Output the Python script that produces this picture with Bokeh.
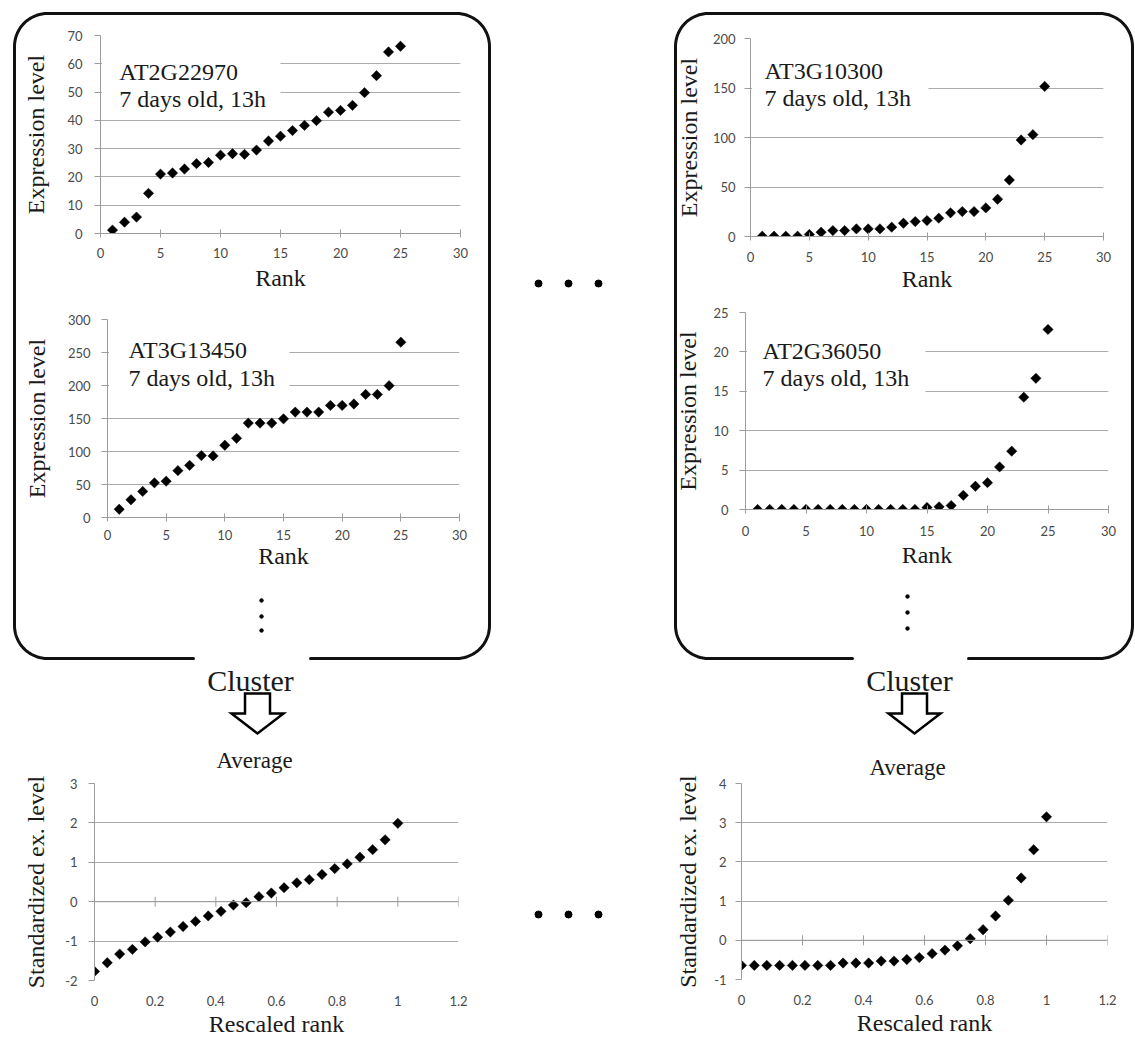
import numpy as np
from bokeh.plotting import figure
from bokeh.layouts import column
from bokeh.models import Range1d, FixedTicker, Label, BoxAnnotation, Span, GridBox
from bokeh.core.properties import value
from bokeh.embed import file_html
from bokeh.resources import INLINE

# ---------------- data ----------------
RANKS = [1, 2, 3, 4, 5, 6, 7, 8, 9, 10, 11, 12, 13, 14, 15, 16, 17, 18, 19, 20, 21, 22, 23, 24, 25]
RESCALED_RANKS = [0.0, 0.042, 0.083, 0.125, 0.167, 0.208, 0.25, 0.292, 0.333, 0.375, 0.417, 0.458, 0.5,
                  0.542, 0.583, 0.625, 0.667, 0.708, 0.75, 0.792, 0.833, 0.875, 0.917, 0.958, 1.0]

CONDITION = "7 days old, 13h"

GENE_A_NAME = "AT2G22970"
GENE_A_EXPR = [1.2, 4.0, 5.8, 14.2, 21.0, 21.4, 22.8, 24.7, 25.1, 27.7, 28.2, 28.0, 29.5, 32.7, 34.4,
               36.4, 38.2, 39.9, 42.9, 43.5, 45.3, 49.8, 55.8, 64.2, 66.2]

GENE_B_NAME = "AT3G13450"
GENE_B_EXPR = [12.5, 26.9, 39.5, 52.5, 55.0, 71.0, 79.0, 93.8, 93.3, 109.5, 120.0, 143.0, 143.0, 143.0,
               149.5, 159.7, 159.7, 159.7, 169.8, 169.8, 172.0, 186.5, 186.5, 199.7, 265.6]

GENE_C_NAME = "AT3G10300"
GENE_C_EXPR = [0.3, 0.3, 0.3, 0.3, 2.0, 4.4, 6.0, 6.0, 7.7, 7.7, 7.7, 9.4, 13.4, 15.1, 16.1, 18.5,
               23.9, 25.2, 25.2, 28.9, 37.6, 57.1, 97.5, 102.9, 151.6]

GENE_D_NAME = "AT2G36050"
GENE_D_EXPR = [0.0, 0.0, 0.0, 0.0, 0.0, 0.0, 0.0, 0.0, 0.0, 0.0, 0.0, 0.0, 0.0, 0.0, 0.25, 0.34, 0.5,
               1.8, 2.95, 3.4, 5.4, 7.4, 14.25, 16.65, 22.85]

AVG_LEFT = [-1.77, -1.55, -1.33, -1.21, -1.02, -0.9, -0.77, -0.63, -0.5, -0.36, -0.245, -0.085, -0.025,
            0.127, 0.22, 0.355, 0.48, 0.56, 0.69, 0.84, 0.96, 1.13, 1.32, 1.57, 1.99]
AVG_RIGHT = [-0.64, -0.64, -0.64, -0.64, -0.64, -0.64, -0.64, -0.64, -0.58, -0.58, -0.58, -0.53, -0.53,
             -0.49, -0.44, -0.34, -0.25, -0.14, 0.04, 0.27, 0.62, 1.02, 1.59, 2.31, 3.15]

RANK_TICKS = [0, 5, 10, 15, 20, 25, 30]
RANK_TICK_LABELS = ["0", "5", "10", "15", "20", "25", "30"]
RESCALED_TICKS = [0, 0.2, 0.4, 0.6, 0.8, 1.0, 1.2]
RESCALED_TICK_LABELS = ["0", "0.2", "0.4", "0.6", "0.8", "1", "1.2"]
Y_TICKS_A = [0, 10, 20, 30, 40, 50, 60, 70]
Y_TICKS_B = [0, 50, 100, 150, 200, 250, 300]
Y_TICKS_C = [0, 50, 100, 150, 200]
Y_TICKS_D = [0, 5, 10, 15, 20, 25]
Y_TICKS_AVG_LEFT = [-2, -1, 0, 1, 2, 3]
Y_TICKS_AVG_RIGHT = [-1, 0, 1, 2, 3, 4]

X_LABEL_RANK = "Rank"
X_LABEL_RESCALED = "Rescaled rank"
Y_LABEL_EXPR = "Expression level"
Y_LABEL_STD = "Standardized ex. level"

# ---------------- style ----------------
SERIF = "Liberation Serif"
SANS = "Lato"
TXT = "#1a1a1a"
GRID = "#ababab"
AXIS = "#9c9c9c"
TICKLBL = "#4a4a4a"


def panel(w, h, borders, xs, ys, xr, yr, xticks, xtl, yticks, xlabel, ylabel,
          xstand, xlabstand, ystand, ylabstand, title=None, zero_axis=False):
    l, r, t, b = borders
    p = figure(width=w, height=h, x_range=Range1d(*xr), y_range=Range1d(*yr),
               output_backend="svg", toolbar_location=None, title=None,
               min_border_left=l, min_border_right=r, min_border_top=t, min_border_bottom=b)
    p.background_fill_alpha = 0
    p.border_fill_alpha = 0
    p.outline_line_color = None
    p.xgrid.visible = False
    p.ygrid.grid_line_color = GRID
    p.ygrid.grid_line_width = 1

    xa, ya = p.xaxis[0], p.yaxis[0]
    xa.ticker = FixedTicker(ticks=xticks)
    xa.major_label_overrides = {v: s for v, s in zip(xticks, xtl)}
    ya.ticker = FixedTicker(ticks=yticks)
    ya.major_label_overrides = {v: str(v) for v in yticks}
    for ax in (xa, ya):
        ax.axis_line_color = AXIS
        ax.major_tick_line_color = AXIS
        ax.minor_tick_line_color = None
        ax.major_label_text_font = SANS
        ax.major_label_text_font_size = "13px"
        ax.major_label_text_color = TICKLBL
        ax.axis_label_text_font = SERIF
        ax.axis_label_text_font_size = "24px"
        ax.axis_label_text_font_style = "normal"
        ax.axis_label_text_color = TXT
    xa.axis_label = xlabel
    ya.axis_label = ylabel
    ya.major_tick_in = 0
    ya.major_tick_out = 6
    ya.major_label_standoff = ystand
    ya.axis_label_standoff = ylabstand
    xa.major_label_standoff = xstand
    xa.axis_label_standoff = xlabstand
    if zero_axis:
        xa.axis_line_color = None
        xa.major_tick_in = 0
        xa.major_tick_out = 0
        p.add_layout(Span(location=0, dimension="width", line_color=AXIS, line_width=1))
        p.scatter(x=xticks, y=[0] * len(xticks), marker="dash", angle=np.pi / 2, size=10,
                  line_color=AXIS, line_width=1)
    else:
        xa.major_tick_in = 4
        xa.major_tick_out = 4

    fw = w - l - r
    fh = h - t - b

    def dx(px):
        return xr[0] + px * (xr[1] - xr[0]) / fw

    def dy(py):
        return yr[1] - py * (yr[1] - yr[0]) / fh

    if title is not None:
        name, tx, b1, b2, box_r, box_t, box_b = title
        p.add_layout(BoxAnnotation(left=dx(1.5), right=dx(box_r), top=dy(box_t), bottom=dy(box_b),
                                   fill_color="white", fill_alpha=1.0, line_color=None, line_alpha=0))
        for txt, bl in ((name, b1), (CONDITION, b2)):
            p.add_layout(Label(x=dx(tx), y=dy(bl), text=txt, text_font=SERIF,
                               text_font_size="24px", text_color=TXT,
                               text_baseline="alphabetic", text_align="left"))

    p.scatter(xs, ys, marker="square", angle=np.pi / 4, size=7.3,
              fill_color="black", line_color="black", line_width=0.5)
    return p


# panel canvases (page pixels): left col x 20..476, right col x 672..1119
# rows: 20..296, 296..578, 772..1041
p1 = panel(456, 276, (76, 16, 15, 63), RANKS, GENE_A_EXPR, (0, 30), (0, 70),
           RANK_TICKS, RANK_TICK_LABELS, Y_TICKS_A, X_LABEL_RANK, Y_LABEL_EXPR,
           10, 4, 12, 15, title=(GENE_A_NAME, 19, 36, 63, 182, 8, 76))
p2 = panel(456, 282, (85, 17, 23, 61), RANKS, GENE_B_EXPR, (0, 30), (0, 300),
           RANK_TICKS, RANK_TICK_LABELS, Y_TICKS_B, X_LABEL_RANK, Y_LABEL_EXPR,
           8, 0, 11, 15, title=(GENE_B_NAME, 21, 30, 58, 183, 8, 88))
p3 = panel(447, 276, (76, 16, 18, 60), RANKS, GENE_C_EXPR, (0, 30), (0, 200),
           RANK_TICKS, RANK_TICK_LABELS, Y_TICKS_C, X_LABEL_RANK, Y_LABEL_EXPR,
           11, 1, 9, 8, title=(GENE_C_NAME, 14, 32, 59, 179, 8, 80))
p4 = panel(447, 282, (73, 11, 16, 69), RANKS, GENE_D_EXPR, (0, 30), (0, 25),
           RANK_TICKS, RANK_TICK_LABELS, Y_TICKS_D, X_LABEL_RANK, Y_LABEL_EXPR,
           12, 3, 11, 9, title=(GENE_D_NAME, 17, 38, 65, 180, 10, 100))
p5 = panel(456, 269, (73, 18, 11, 61), RESCALED_RANKS, AVG_LEFT, (0, 1.2), (-2, 3),
           RESCALED_TICKS, RESCALED_TICK_LABELS, Y_TICKS_AVG_LEFT, X_LABEL_RESCALED, Y_LABEL_STD,
           15, 2, 11, 13, zero_axis=True)
p6 = panel(447, 269, (68, 12, 11, 62), RESCALED_RANKS, AVG_RIGHT, (0, 1.2), (-1, 4),
           RESCALED_TICKS, RESCALED_TICK_LABELS, Y_TICKS_AVG_RIGHT, X_LABEL_RESCALED, Y_LABEL_STD,
           15, 2, 9, 10, zero_axis=True)

# ---------------- background diagram (page pixel coordinates) ----------------
bg = figure(width=1135, height=1041, x_range=Range1d(0, 1135), y_range=Range1d(1041, 0),
            output_backend="svg", toolbar_location=None, title=None,
            x_axis_location=None, y_axis_location=None, min_border=0)
bg.outline_line_color = None
bg.grid.visible = False
bg.background_fill_color = "white"
bg.border_fill_color = "white"


def rounded_open_box(x0, y0, x1, y1, r, gap0, gap1):
    xs, ys = [gap0], [y1]
    for cx, cy, a0, a1 in ((x0 + r, y1 - r, 90, 180), (x0 + r, y0 + r, 180, 270),
                           (x1 - r, y0 + r, 270, 360), (x1 - r, y1 - r, 0, 90)):
        th = np.radians(np.linspace(a0, a1, 20))
        xs += list(cx + r * np.cos(th))
        ys += list(cy + r * np.sin(th))
    xs.append(gap1)
    ys.append(y1)
    return xs, ys


for (x0, x1, g0, g1) in ((14, 489, 193, 310), (675, 1132, 852, 968)):
    bx, by = rounded_open_box(x0, 13, x1, 658, 33, g0, g1)
    bg.line(bx, by, line_color="#111111", line_width=3, line_join="round", line_cap="round")

bg.text(x=[250, 909], y=[680, 680], text=["Cluster", "Cluster"], text_font=value(SERIF),
        text_font_size=value("30px"), text_color=TXT, text_align="center", text_baseline="alphabetic")
bg.text(x=[254, 907], y=[760, 767], text=["Average", "Average"], text_font=value(SERIF),
        text_font_size=value("23px"), text_color=TXT, text_align="center", text_baseline="alphabetic")

for cx in (257, 914):
    ax_ = [cx - 12.5, cx + 12.5, cx + 12.5, cx + 26, cx, cx - 26, cx - 12.5]
    ay_ = [693, 693, 713, 713, 733, 713, 713]
    bg.patch(ax_, ay_, fill_color="white", line_color="black", line_width=2.5, line_join="miter")

# vertical ellipsis inside boxes
bg.scatter(x=[261, 261, 261, 907, 907, 907], y=[600, 616, 630, 596, 612, 628],
           size=3.5, fill_color="black", line_color="black")
# horizontal ellipsis between columns
bg.scatter(x=[538, 568, 598, 538, 568, 598], y=[283, 283, 283, 914, 914, 914],
           size=7, fill_color="black", line_color="black")

layout = GridBox(children=[(column(bg), 0, 0, 5, 5), (column(p1), 1, 1), (column(p2), 2, 1),
                           (column(p5), 4, 1), (column(p3), 1, 3), (column(p4), 2, 3),
                           (column(p6), 4, 3)],
                 rows=["20px", "276px", "282px", "194px", "269px"],
                 cols=["20px", "456px", "196px", "447px", "16px"])

open("out.html", "w").write(file_html(layout, INLINE))
